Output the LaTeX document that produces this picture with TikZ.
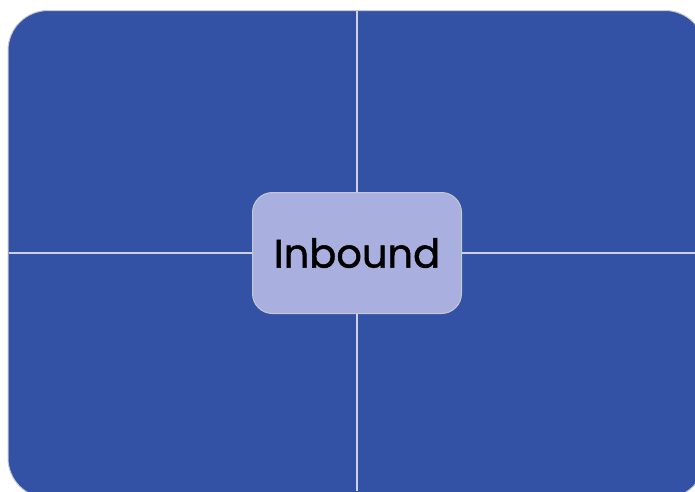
\documentclass[tikz,border=0pt]{standalone}
\usepackage{fontspec}
\setmainfont{Poppins}
\newfontfamily\lblfont[FakeBold=1.2]{Poppins}
\definecolor{quadblue}{RGB}{51,82,166}
\definecolor{centerfill}{RGB}{169,176,223}
\definecolor{edgegray}{RGB}{200,200,205}
\definecolor{sepline}{RGB}{205,208,225}
\begin{document}
\begin{tikzpicture}[x=1pt,y=-1pt,
  sep/.style={draw=sepline,line width=1.6pt},
  centerbox/.style={draw=edgegray,line width=1pt,fill=centerfill,rounded corners=20pt,
    minimum width=209pt,minimum height=121pt,inner sep=0pt,font=\lblfont\fontsize{40}{44}\selectfont,text=black}]
\useasboundingbox (0,0) rectangle (695,491);
\begin{scope}
\clip (0,0) rectangle (695,491);
\draw[draw=edgegray,line width=1pt,fill=quadblue,rounded corners=40pt] (8,10.5) rectangle (705,498);
\coordinate (top) at (357,11);
\coordinate (bottom) at (357,491);
\coordinate (left) at (8.5,253);
\coordinate (right) at (695,253);
\node[centerbox] (c) at (357,253) {Inbound};
\draw[sep] (top) -- (c.north);
\draw[sep] (c.south) -- (bottom);
\draw[sep] (left) -- (c.west);
\draw[sep] (c.east) -- (right);
\end{scope}
\end{tikzpicture}
\end{document}
